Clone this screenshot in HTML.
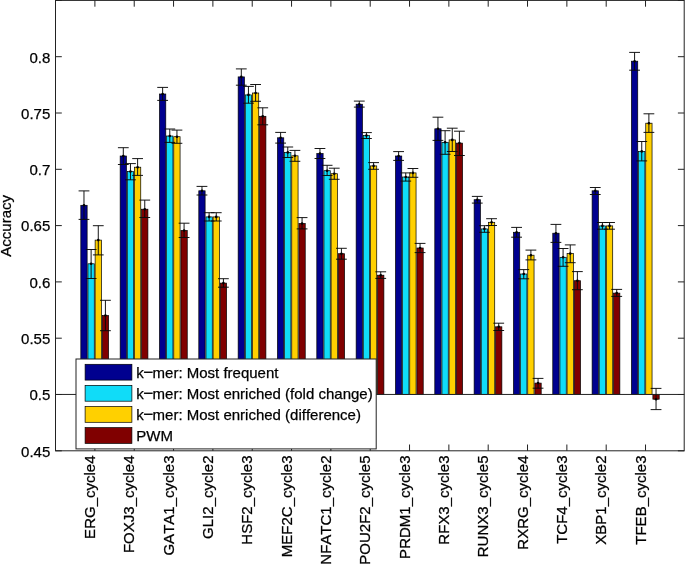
<!DOCTYPE html>
<html><head><meta charset="utf-8"><title>Accuracy</title>
<style>html,body{margin:0;padding:0;background:#fff}svg{display:block}text{font-family:"Liberation Sans",Arial,Helvetica,sans-serif;font-size:15px;fill:#000;stroke:#000;stroke-width:0.25px;font-kerning:none}</style></head><body>
<svg width="685" height="564" viewBox="0 0 685 564">
<rect x="0" y="0" width="685" height="564" fill="#fff"/>
<g stroke="#000" stroke-width="0.7">
<rect x="80.83" y="205.30" width="6.30" height="189.15" fill="#00008f"/>
<rect x="87.97" y="263.80" width="6.30" height="130.65" fill="#10dcf8"/>
<rect x="95.12" y="240.10" width="6.30" height="154.35" fill="#ffd000"/>
<rect x="102.27" y="315.50" width="6.30" height="78.95" fill="#800000"/>
<rect x="120.16" y="156.00" width="6.30" height="238.45" fill="#00008f"/>
<rect x="127.31" y="171.60" width="6.30" height="222.85" fill="#10dcf8"/>
<rect x="134.46" y="167.20" width="6.30" height="227.25" fill="#ffd000"/>
<rect x="141.61" y="209.20" width="6.30" height="185.25" fill="#800000"/>
<rect x="159.49" y="94.00" width="6.30" height="300.45" fill="#00008f"/>
<rect x="166.64" y="136.00" width="6.30" height="258.45" fill="#10dcf8"/>
<rect x="173.78" y="136.70" width="6.30" height="257.75" fill="#ffd000"/>
<rect x="180.94" y="230.50" width="6.30" height="163.95" fill="#800000"/>
<rect x="198.81" y="190.80" width="6.30" height="203.65" fill="#00008f"/>
<rect x="205.97" y="216.90" width="6.30" height="177.55" fill="#10dcf8"/>
<rect x="213.11" y="216.90" width="6.30" height="177.55" fill="#ffd000"/>
<rect x="220.26" y="283.10" width="6.30" height="111.35" fill="#800000"/>
<rect x="238.15" y="76.90" width="6.30" height="317.55" fill="#00008f"/>
<rect x="245.30" y="94.90" width="6.30" height="299.55" fill="#10dcf8"/>
<rect x="252.44" y="93.00" width="6.30" height="301.45" fill="#ffd000"/>
<rect x="259.60" y="116.30" width="6.30" height="278.15" fill="#800000"/>
<rect x="277.47" y="137.80" width="6.30" height="256.65" fill="#00008f"/>
<rect x="284.62" y="152.40" width="6.30" height="242.05" fill="#10dcf8"/>
<rect x="291.77" y="155.80" width="6.30" height="238.65" fill="#ffd000"/>
<rect x="298.93" y="223.50" width="6.30" height="170.95" fill="#800000"/>
<rect x="316.81" y="153.60" width="6.30" height="240.85" fill="#00008f"/>
<rect x="323.96" y="170.70" width="6.30" height="223.75" fill="#10dcf8"/>
<rect x="331.11" y="173.70" width="6.30" height="220.75" fill="#ffd000"/>
<rect x="338.26" y="253.70" width="6.30" height="140.75" fill="#800000"/>
<rect x="356.14" y="104.20" width="6.30" height="290.25" fill="#00008f"/>
<rect x="363.29" y="135.50" width="6.30" height="258.95" fill="#10dcf8"/>
<rect x="370.44" y="165.90" width="6.30" height="228.55" fill="#ffd000"/>
<rect x="377.59" y="275.20" width="6.30" height="119.25" fill="#800000"/>
<rect x="395.46" y="156.00" width="6.30" height="238.45" fill="#00008f"/>
<rect x="402.62" y="177.00" width="6.30" height="217.45" fill="#10dcf8"/>
<rect x="409.76" y="172.90" width="6.30" height="221.55" fill="#ffd000"/>
<rect x="416.92" y="248.00" width="6.30" height="146.45" fill="#800000"/>
<rect x="434.80" y="128.80" width="6.30" height="265.65" fill="#00008f"/>
<rect x="441.95" y="142.30" width="6.30" height="252.15" fill="#10dcf8"/>
<rect x="449.10" y="139.90" width="6.30" height="254.55" fill="#ffd000"/>
<rect x="456.25" y="143.10" width="6.30" height="251.35" fill="#800000"/>
<rect x="474.12" y="199.70" width="6.30" height="194.75" fill="#00008f"/>
<rect x="481.27" y="228.90" width="6.30" height="165.55" fill="#10dcf8"/>
<rect x="488.42" y="222.30" width="6.30" height="172.15" fill="#ffd000"/>
<rect x="495.57" y="326.80" width="6.30" height="67.65" fill="#800000"/>
<rect x="513.45" y="232.30" width="6.30" height="162.15" fill="#00008f"/>
<rect x="520.60" y="274.00" width="6.30" height="120.45" fill="#10dcf8"/>
<rect x="527.75" y="255.20" width="6.30" height="139.25" fill="#ffd000"/>
<rect x="534.90" y="383.10" width="6.30" height="11.35" fill="#800000"/>
<rect x="552.78" y="233.20" width="6.30" height="161.25" fill="#00008f"/>
<rect x="559.93" y="257.30" width="6.30" height="137.15" fill="#10dcf8"/>
<rect x="567.09" y="253.60" width="6.30" height="140.85" fill="#ffd000"/>
<rect x="574.24" y="280.70" width="6.30" height="113.75" fill="#800000"/>
<rect x="592.11" y="190.80" width="6.30" height="203.65" fill="#00008f"/>
<rect x="599.26" y="225.90" width="6.30" height="168.55" fill="#10dcf8"/>
<rect x="606.41" y="225.90" width="6.30" height="168.55" fill="#ffd000"/>
<rect x="613.56" y="293.10" width="6.30" height="101.35" fill="#800000"/>
<rect x="631.44" y="61.20" width="6.30" height="333.25" fill="#00008f"/>
<rect x="638.59" y="151.40" width="6.30" height="243.05" fill="#10dcf8"/>
<rect x="645.75" y="123.20" width="6.30" height="271.25" fill="#ffd000"/>
<rect x="652.89" y="394.45" width="6.30" height="4.75" fill="#800000"/>
</g>
<line x1="55.5" y1="394.45" x2="684.2" y2="394.45" stroke="#222" stroke-width="1"/>
<g stroke="#0a0a0a" stroke-width="0.95" fill="none">
<path d="M83.98 190.90V219.40M78.58 190.90H89.38M78.58 219.40H89.38"/>
<path d="M91.12 249.50V278.50M85.72 249.50H96.53M85.72 278.50H96.53"/>
<path d="M98.28 225.70V254.90M92.88 225.70H103.68M92.88 254.90H103.68"/>
<path d="M105.42 300.30V330.70M100.02 300.30H110.83M100.02 330.70H110.83"/>
<path d="M123.31 147.70V164.50M117.91 147.70H128.71M117.91 164.50H128.71"/>
<path d="M130.46 163.60V179.80M125.06 163.60H135.86M125.06 179.80H135.86"/>
<path d="M137.61 158.60V175.40M132.21 158.60H143.01M132.21 175.40H143.01"/>
<path d="M144.76 200.10V217.50M139.36 200.10H150.16M139.36 217.50H150.16"/>
<path d="M162.64 87.40V100.40M157.24 87.40H168.04M157.24 100.40H168.04"/>
<path d="M169.79 129.00V142.40M164.39 129.00H175.19M164.39 142.40H175.19"/>
<path d="M176.94 130.10V143.30M171.53 130.10H182.34M171.53 143.30H182.34"/>
<path d="M184.09 223.20V237.50M178.69 223.20H189.49M178.69 237.50H189.49"/>
<path d="M201.97 186.40V195.00M196.56 186.40H207.37M196.56 195.00H207.37"/>
<path d="M209.12 212.70V221.00M203.72 212.70H214.52M203.72 221.00H214.52"/>
<path d="M216.26 212.70V221.00M210.86 212.70H221.66M210.86 221.00H221.66"/>
<path d="M223.41 278.70V287.20M218.01 278.70H228.81M218.01 287.20H228.81"/>
<path d="M241.30 68.90V85.20M235.90 68.90H246.70M235.90 85.20H246.70"/>
<path d="M248.45 86.40V103.20M243.05 86.40H253.85M243.05 103.20H253.85"/>
<path d="M255.59 84.50V101.30M250.19 84.50H261.00M250.19 101.30H261.00"/>
<path d="M262.75 107.80V124.80M257.35 107.80H268.14M257.35 124.80H268.14"/>
<path d="M280.62 132.40V143.10M275.22 132.40H286.02M275.22 143.10H286.02"/>
<path d="M287.77 147.00V157.50M282.38 147.00H293.17M282.38 157.50H293.17"/>
<path d="M294.92 150.40V161.30M289.52 150.40H300.32M289.52 161.30H300.32"/>
<path d="M302.07 217.60V228.90M296.68 217.60H307.47M296.68 228.90H307.47"/>
<path d="M319.95 148.50V158.50M314.56 148.50H325.35M314.56 158.50H325.35"/>
<path d="M327.11 165.30V175.50M321.71 165.30H332.50M321.71 175.50H332.50"/>
<path d="M334.25 168.20V179.30M328.86 168.20H339.65M328.86 179.30H339.65"/>
<path d="M341.41 248.30V259.20M336.01 248.30H346.81M336.01 259.20H346.81"/>
<path d="M359.29 101.10V107.10M353.89 101.10H364.69M353.89 107.10H364.69"/>
<path d="M366.44 132.60V138.50M361.04 132.60H371.84M361.04 138.50H371.84"/>
<path d="M373.59 162.60V169.30M368.19 162.60H378.99M368.19 169.30H378.99"/>
<path d="M380.74 271.80V278.40M375.34 271.80H386.14M375.34 278.40H386.14"/>
<path d="M398.61 151.60V160.40M393.21 151.60H404.01M393.21 160.40H404.01"/>
<path d="M405.76 172.90V181.10M400.37 172.90H411.16M400.37 181.10H411.16"/>
<path d="M412.91 168.50V177.30M407.51 168.50H418.31M407.51 177.30H418.31"/>
<path d="M420.06 243.40V252.60M414.67 243.40H425.46M414.67 252.60H425.46"/>
<path d="M437.94 117.20V140.40M432.55 117.20H443.34M432.55 140.40H443.34"/>
<path d="M445.10 130.70V154.30M439.70 130.70H450.50M439.70 154.30H450.50"/>
<path d="M452.25 128.20V151.50M446.85 128.20H457.64M446.85 151.50H457.64"/>
<path d="M459.40 131.20V155.50M454.00 131.20H464.80M454.00 155.50H464.80"/>
<path d="M477.27 196.40V203.10M471.87 196.40H482.67M471.87 203.10H482.67"/>
<path d="M484.42 225.70V232.30M479.02 225.70H489.82M479.02 232.30H489.82"/>
<path d="M491.57 218.70V225.50M486.17 218.70H496.97M486.17 225.50H496.97"/>
<path d="M498.72 323.20V330.50M493.32 323.20H504.12M493.32 330.50H504.12"/>
<path d="M516.60 227.40V237.20M511.20 227.40H522.00M511.20 237.20H522.00"/>
<path d="M523.75 269.60V278.80M518.35 269.60H529.15M518.35 278.80H529.15"/>
<path d="M530.90 250.10V259.90M525.50 250.10H536.30M525.50 259.90H536.30"/>
<path d="M538.05 378.40V388.20M532.65 378.40H543.45M532.65 388.20H543.45"/>
<path d="M555.93 224.40V242.40M550.53 224.40H561.33M550.53 242.40H561.33"/>
<path d="M563.08 248.50V266.30M557.68 248.50H568.48M557.68 266.30H568.48"/>
<path d="M570.24 244.90V262.70M564.84 244.90H575.63M564.84 262.70H575.63"/>
<path d="M577.38 271.60V289.70M571.99 271.60H582.78M571.99 289.70H582.78"/>
<path d="M595.26 187.50V194.50M589.86 187.50H600.66M589.86 194.50H600.66"/>
<path d="M602.41 222.50V229.20M597.01 222.50H607.81M597.01 229.20H607.81"/>
<path d="M609.56 222.50V229.20M604.16 222.50H614.96M604.16 229.20H614.96"/>
<path d="M616.71 289.40V296.40M611.31 289.40H622.11M611.31 296.40H622.11"/>
<path d="M634.59 52.40V70.20M629.19 52.40H639.99M629.19 70.20H639.99"/>
<path d="M641.74 141.50V160.90M636.34 141.50H647.14M636.34 160.90H647.14"/>
<path d="M648.89 113.80V132.40M643.50 113.80H654.29M643.50 132.40H654.29"/>
<path d="M656.04 388.40V409.60M650.64 388.40H661.44M650.64 409.60H661.44"/>
</g>
<g fill="#000">
<circle cx="83.98" cy="205.30" r="1.3"/>
<circle cx="91.12" cy="263.80" r="1.3"/>
<circle cx="98.28" cy="240.10" r="1.3"/>
<circle cx="105.42" cy="315.50" r="1.3"/>
<circle cx="123.31" cy="156.00" r="1.3"/>
<circle cx="130.46" cy="171.60" r="1.3"/>
<circle cx="137.61" cy="167.20" r="1.3"/>
<circle cx="144.76" cy="209.20" r="1.3"/>
<circle cx="162.64" cy="94.00" r="1.3"/>
<circle cx="169.79" cy="136.00" r="1.3"/>
<circle cx="176.94" cy="136.70" r="1.3"/>
<circle cx="184.09" cy="230.50" r="1.3"/>
<circle cx="201.97" cy="190.80" r="1.3"/>
<circle cx="209.12" cy="216.90" r="1.3"/>
<circle cx="216.26" cy="216.90" r="1.3"/>
<circle cx="223.41" cy="283.10" r="1.3"/>
<circle cx="241.30" cy="76.90" r="1.3"/>
<circle cx="248.45" cy="94.90" r="1.3"/>
<circle cx="255.59" cy="93.00" r="1.3"/>
<circle cx="262.75" cy="116.30" r="1.3"/>
<circle cx="280.62" cy="137.80" r="1.3"/>
<circle cx="287.77" cy="152.40" r="1.3"/>
<circle cx="294.92" cy="155.80" r="1.3"/>
<circle cx="302.07" cy="223.50" r="1.3"/>
<circle cx="319.95" cy="153.60" r="1.3"/>
<circle cx="327.11" cy="170.70" r="1.3"/>
<circle cx="334.25" cy="173.70" r="1.3"/>
<circle cx="341.41" cy="253.70" r="1.3"/>
<circle cx="359.29" cy="104.20" r="1.3"/>
<circle cx="366.44" cy="135.50" r="1.3"/>
<circle cx="373.59" cy="165.90" r="1.3"/>
<circle cx="380.74" cy="275.20" r="1.3"/>
<circle cx="398.61" cy="156.00" r="1.3"/>
<circle cx="405.76" cy="177.00" r="1.3"/>
<circle cx="412.91" cy="172.90" r="1.3"/>
<circle cx="420.06" cy="248.00" r="1.3"/>
<circle cx="437.94" cy="128.80" r="1.3"/>
<circle cx="445.10" cy="142.30" r="1.3"/>
<circle cx="452.25" cy="139.90" r="1.3"/>
<circle cx="459.40" cy="143.10" r="1.3"/>
<circle cx="477.27" cy="199.70" r="1.3"/>
<circle cx="484.42" cy="228.90" r="1.3"/>
<circle cx="491.57" cy="222.30" r="1.3"/>
<circle cx="498.72" cy="326.80" r="1.3"/>
<circle cx="516.60" cy="232.30" r="1.3"/>
<circle cx="523.75" cy="274.00" r="1.3"/>
<circle cx="530.90" cy="255.20" r="1.3"/>
<circle cx="538.05" cy="383.10" r="1.3"/>
<circle cx="555.93" cy="233.20" r="1.3"/>
<circle cx="563.08" cy="257.30" r="1.3"/>
<circle cx="570.24" cy="253.60" r="1.3"/>
<circle cx="577.38" cy="280.70" r="1.3"/>
<circle cx="595.26" cy="190.80" r="1.3"/>
<circle cx="602.41" cy="225.90" r="1.3"/>
<circle cx="609.56" cy="225.90" r="1.3"/>
<circle cx="616.71" cy="293.10" r="1.3"/>
<circle cx="634.59" cy="61.20" r="1.3"/>
<circle cx="641.74" cy="151.40" r="1.3"/>
<circle cx="648.89" cy="123.20" r="1.3"/>
<circle cx="656.04" cy="399.20" r="1.3"/>
</g>
<g stroke="#222" stroke-width="1" fill="none">
<rect x="55.5" y="0.4" width="628.7" height="450.40000000000003"/>
<path d="M94.90 0.4v6.3M94.90 450.8v-6.3"/>
<path d="M134.23 0.4v6.3M134.23 450.8v-6.3"/>
<path d="M173.56 0.4v6.3M173.56 450.8v-6.3"/>
<path d="M212.89 0.4v6.3M212.89 450.8v-6.3"/>
<path d="M252.22 0.4v6.3M252.22 450.8v-6.3"/>
<path d="M291.55 0.4v6.3M291.55 450.8v-6.3"/>
<path d="M330.88 0.4v6.3M330.88 450.8v-6.3"/>
<path d="M370.21 0.4v6.3M370.21 450.8v-6.3"/>
<path d="M409.54 0.4v6.3M409.54 450.8v-6.3"/>
<path d="M448.87 0.4v6.3M448.87 450.8v-6.3"/>
<path d="M488.20 0.4v6.3M488.20 450.8v-6.3"/>
<path d="M527.53 0.4v6.3M527.53 450.8v-6.3"/>
<path d="M566.86 0.4v6.3M566.86 450.8v-6.3"/>
<path d="M606.19 0.4v6.3M606.19 450.8v-6.3"/>
<path d="M645.52 0.4v6.3M645.52 450.8v-6.3"/>
<path d="M55.5 450.80h6.3M684.2 450.80h-6.3"/>
<path d="M55.5 394.50h6.3M684.2 394.50h-6.3"/>
<path d="M55.5 338.20h6.3M684.2 338.20h-6.3"/>
<path d="M55.5 281.90h6.3M684.2 281.90h-6.3"/>
<path d="M55.5 225.60h6.3M684.2 225.60h-6.3"/>
<path d="M55.5 169.30h6.3M684.2 169.30h-6.3"/>
<path d="M55.5 113.00h6.3M684.2 113.00h-6.3"/>
<path d="M55.5 56.70h6.3M684.2 56.70h-6.3"/>
<path d="M55.5 0.40h6.3M684.2 0.40h-6.3"/>
</g>
<text x="50.3" y="456.60" text-anchor="end">0.45</text>
<text x="50.3" y="400.30" text-anchor="end">0.5</text>
<text x="50.3" y="344.00" text-anchor="end">0.55</text>
<text x="50.3" y="287.70" text-anchor="end">0.6</text>
<text x="50.3" y="231.40" text-anchor="end">0.65</text>
<text x="50.3" y="175.10" text-anchor="end">0.7</text>
<text x="50.3" y="118.80" text-anchor="end">0.75</text>
<text x="50.3" y="62.50" text-anchor="end">0.8</text>
<text transform="translate(11.2 225.8) rotate(-90)" text-anchor="middle">Accuracy</text>
<text transform="translate(95.00 455.5) rotate(-90)" text-anchor="end">ERG_cycle4</text>
<text transform="translate(134.33 455.5) rotate(-90)" text-anchor="end">FOXJ3_cycle4</text>
<text transform="translate(173.66 455.5) rotate(-90)" text-anchor="end">GATA1_cycle3</text>
<text transform="translate(212.99 455.5) rotate(-90)" text-anchor="end">GLI2_cycle2</text>
<text transform="translate(252.32 455.5) rotate(-90)" text-anchor="end">HSF2_cycle3</text>
<text transform="translate(291.65 455.5) rotate(-90)" text-anchor="end">MEF2C_cycle3</text>
<text transform="translate(330.98 455.5) rotate(-90)" text-anchor="end">NFATC1_cycle2</text>
<text transform="translate(370.31 455.5) rotate(-90)" text-anchor="end">POU2F2_cycle5</text>
<text transform="translate(409.64 455.5) rotate(-90)" text-anchor="end">PRDM1_cycle3</text>
<text transform="translate(448.97 455.5) rotate(-90)" text-anchor="end">RFX3_cycle3</text>
<text transform="translate(488.30 455.5) rotate(-90)" text-anchor="end">RUNX3_cycle5</text>
<text transform="translate(527.63 455.5) rotate(-90)" text-anchor="end">RXRG_cycle4</text>
<text transform="translate(566.96 455.5) rotate(-90)" text-anchor="end">TCF4_cycle3</text>
<text transform="translate(606.29 455.5) rotate(-90)" text-anchor="end">XBP1_cycle2</text>
<text transform="translate(645.62 455.5) rotate(-90)" text-anchor="end">TFEB_cycle3</text>
<rect x="76.0" y="359.0" width="300.2" height="89.89999999999998" fill="#fff" stroke="#222" stroke-width="1"/>
<rect x="85.1" y="364.30" width="46.8" height="15.8" fill="#00008f" stroke="#000" stroke-width="0.7"/>
<text x="136.3" y="377.60">k<tspan font-size="17.2" dy="0.6" dx="-0.5">−</tspan><tspan dy="-0.6" dx="-0.8">mer: Most frequent</tspan></text>
<rect x="85.1" y="385.40" width="46.8" height="15.8" fill="#10dcf8" stroke="#000" stroke-width="0.7"/>
<text x="136.3" y="398.70">k<tspan font-size="17.2" dy="0.6" dx="-0.5">−</tspan><tspan dy="-0.6" dx="-0.8">mer: Most enriched (fold change)</tspan></text>
<rect x="85.1" y="406.50" width="46.8" height="15.8" fill="#ffd000" stroke="#000" stroke-width="0.7"/>
<text x="136.3" y="419.80">k<tspan font-size="17.2" dy="0.6" dx="-0.5">−</tspan><tspan dy="-0.6" dx="-0.8">mer: Most enriched (difference)</tspan></text>
<rect x="85.1" y="427.60" width="46.8" height="15.8" fill="#800000" stroke="#000" stroke-width="0.7"/>
<text x="136.3" y="440.90">PWM</text>
</svg></body></html>
